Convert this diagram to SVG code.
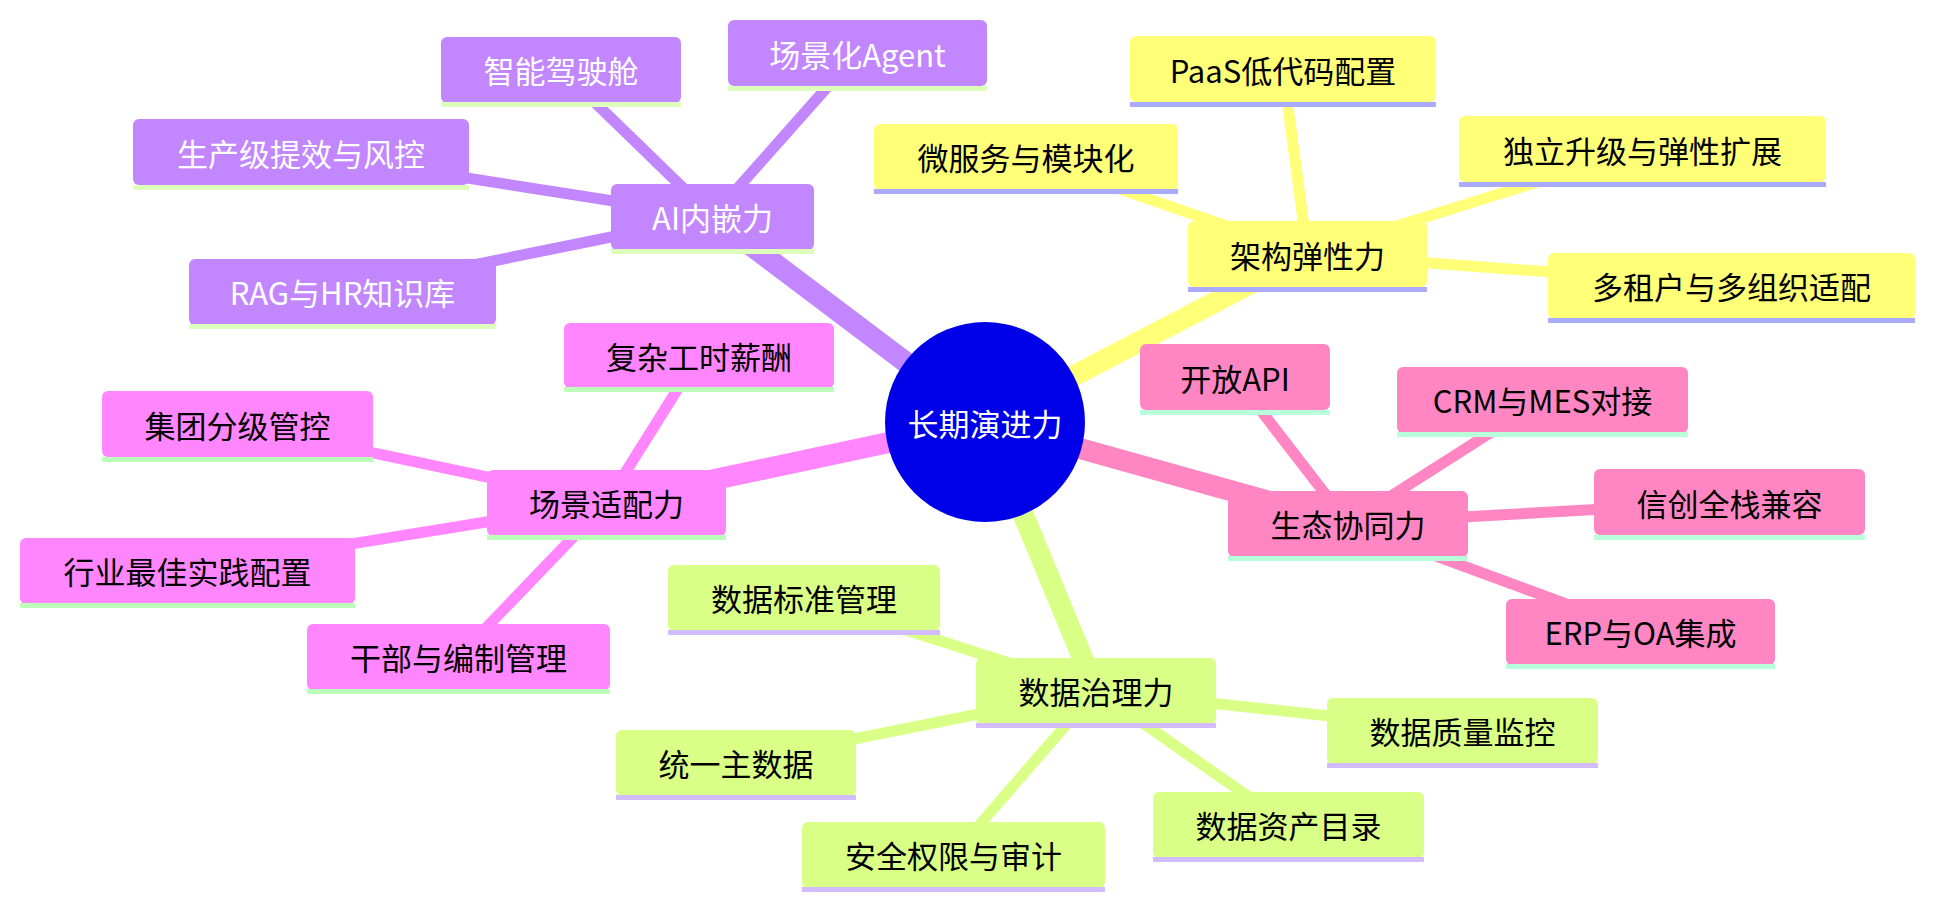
<svg xmlns="http://www.w3.org/2000/svg" width="1935" height="909" viewBox="0 0 1935 909">
<style>
text{font-family:"Noto Sans CJK SC","Liberation Sans",sans-serif;font-size:31px;text-anchor:middle;dominant-baseline:central;fill:#000}
.box{stroke:none}
.e0{stroke-width:21;stroke-linecap:butt;fill:none}
.e1{stroke-width:11;stroke-linecap:butt;fill:none}
.cp{stroke:#c286ff}.cy{stroke:#ffff78}.ck{stroke:#ff86c2}.cl{stroke:#d9ff86}.cm{stroke:#ff86ff}
.sp .box{fill:#c286ff}.sp .ul{fill:#ddffbb}.sp text{fill:#fff}
.sy .box{fill:#ffff78}.sy .ul{fill:#aaaaff}
.sk .box{fill:#ff86c2}.sk .ul{fill:#b8ffdc}
.sl .box{fill:#d9ff86}.sl .ul{fill:#d3bbff}
.sm .box{fill:#ff86ff}.sm .ul{fill:#bbffbb}
</style>
<rect width="1935" height="909" fill="#fff"/>
<g id="connectors">
  <line class="e0 cp" x1="985" y1="422" x2="712.5" y2="216.5"/>
  <line class="e0 cy" x1="985" y1="422" x2="1307.5" y2="254"/>
  <line class="e0 ck" x1="985" y1="422" x2="1348" y2="523.5"/>
  <line class="e0 cl" x1="985" y1="422" x2="1096" y2="690.5"/>
  <line class="e0 cm" x1="985" y1="422" x2="606.5" y2="502.5"/>
  <line class="e1 cp" x1="712.5" y1="216.5" x2="561" y2="69.5"/>
  <line class="e1 cp" x1="712.5" y1="216.5" x2="857.5" y2="53"/>
  <line class="e1 cp" x1="712.5" y1="216.5" x2="301" y2="152"/>
  <line class="e1 cp" x1="712.5" y1="216.5" x2="342.5" y2="291.5"/>
  <line class="e1 cy" x1="1307.5" y1="254" x2="1283" y2="69"/>
  <line class="e1 cy" x1="1307.5" y1="254" x2="1026" y2="156.5"/>
  <line class="e1 cy" x1="1307.5" y1="254" x2="1642.5" y2="149"/>
  <line class="e1 cy" x1="1307.5" y1="254" x2="1731.5" y2="285.5"/>
  <line class="e1 ck" x1="1348" y1="523.5" x2="1235" y2="377"/>
  <line class="e1 ck" x1="1348" y1="523.5" x2="1542.5" y2="399.5"/>
  <line class="e1 ck" x1="1348" y1="523.5" x2="1729.5" y2="502"/>
  <line class="e1 ck" x1="1348" y1="523.5" x2="1640.5" y2="631.5"/>
  <line class="e1 cl" x1="1096" y1="690.5" x2="804" y2="597.5"/>
  <line class="e1 cl" x1="1096" y1="690.5" x2="736" y2="762.5"/>
  <line class="e1 cl" x1="1096" y1="690.5" x2="953.5" y2="854.5"/>
  <line class="e1 cl" x1="1096" y1="690.5" x2="1288.5" y2="824.5"/>
  <line class="e1 cl" x1="1096" y1="690.5" x2="1462.5" y2="730.5"/>
  <line class="e1 cm" x1="606.5" y1="502.5" x2="699" y2="355"/>
  <line class="e1 cm" x1="606.5" y1="502.5" x2="237.5" y2="424"/>
  <line class="e1 cm" x1="606.5" y1="502.5" x2="187.5" y2="570.5"/>
  <line class="e1 cm" x1="606.5" y1="502.5" x2="458.5" y2="656.5"/>
</g>
<g id="root">
  <circle cx="985" cy="422" r="100" fill="#0000e8"/>
  <text x="985" y="422" style="fill:#fff">长期演进力</text>
</g>
<g id="n-ai" class="sp"><rect class="box" x="611" y="184" width="203" height="66" rx="6"/><rect class="ul" x="611" y="249" width="203" height="5"/><text x="712.5" y="216.5">AI内嵌力</text></g>
<g id="n-ai-1" class="sp"><rect class="box" x="441" y="37" width="240" height="66" rx="6"/><rect class="ul" x="441" y="102" width="240" height="5"/><text x="561" y="69.5">智能驾驶舱</text></g>
<g id="n-ai-2" class="sp"><rect class="box" x="728" y="20" width="259" height="66" rx="6"/><rect class="ul" x="728" y="86" width="259" height="5"/><text x="857.5" y="53">场景化Agent</text></g>
<g id="n-ai-3" class="sp"><rect class="box" x="133" y="119" width="336" height="66" rx="6"/><rect class="ul" x="133" y="185" width="336" height="5"/><text x="301" y="152">生产级提效与风控</text></g>
<g id="n-ai-4" class="sp"><rect class="box" x="189" y="259" width="307" height="66" rx="6"/><rect class="ul" x="189" y="324" width="307" height="5"/><text x="342.5" y="291.5">RAG与HR知识库</text></g>

<g id="n-arch" class="sy"><rect class="box" x="1188" y="221" width="239" height="66" rx="6"/><rect class="ul" x="1188" y="287" width="239" height="5"/><text x="1307.5" y="254">架构弹性力</text></g>
<g id="n-arch-1" class="sy"><rect class="box" x="1130" y="36" width="306" height="66" rx="6"/><rect class="ul" x="1130" y="102" width="306" height="5"/><text x="1283" y="69">PaaS低代码配置</text></g>
<g id="n-arch-2" class="sy"><rect class="box" x="874" y="124" width="304" height="66" rx="6"/><rect class="ul" x="874" y="189" width="304" height="5"/><text x="1026" y="156.5">微服务与模块化</text></g>
<g id="n-arch-3" class="sy"><rect class="box" x="1459" y="116" width="367" height="66" rx="6"/><rect class="ul" x="1459" y="182" width="367" height="5"/><text x="1642.5" y="149">独立升级与弹性扩展</text></g>
<g id="n-arch-4" class="sy"><rect class="box" x="1548" y="253" width="367" height="66" rx="6"/><rect class="ul" x="1548" y="318" width="367" height="5"/><text x="1731.5" y="285.5">多租户与多组织适配</text></g>

<g id="n-eco" class="sk"><rect class="box" x="1228" y="491" width="240" height="66" rx="6"/><rect class="ul" x="1228" y="556" width="240" height="5"/><text x="1348" y="523.5">生态协同力</text></g>
<g id="n-eco-1" class="sk"><rect class="box" x="1140" y="344" width="190" height="66" rx="6"/><rect class="ul" x="1140" y="410" width="190" height="5"/><text x="1235" y="377">开放API</text></g>
<g id="n-eco-2" class="sk"><rect class="box" x="1397" y="367" width="291" height="66" rx="6"/><rect class="ul" x="1397" y="432" width="291" height="5"/><text x="1542.5" y="399.5">CRM与MES对接</text></g>
<g id="n-eco-3" class="sk"><rect class="box" x="1594" y="469" width="271" height="66" rx="6"/><rect class="ul" x="1594" y="535" width="271" height="5"/><text x="1729.5" y="502">信创全栈兼容</text></g>
<g id="n-eco-4" class="sk"><rect class="box" x="1506" y="599" width="269" height="66" rx="6"/><rect class="ul" x="1506" y="664" width="269" height="5"/><text x="1640.5" y="631.5">ERP与OA集成</text></g>

<g id="n-data" class="sl"><rect class="box" x="976" y="658" width="240" height="66" rx="6"/><rect class="ul" x="976" y="723" width="240" height="5"/><text x="1096" y="690.5">数据治理力</text></g>
<g id="n-data-1" class="sl"><rect class="box" x="668" y="565" width="272" height="66" rx="6"/><rect class="ul" x="668" y="630" width="272" height="5"/><text x="804" y="597.5">数据标准管理</text></g>
<g id="n-data-2" class="sl"><rect class="box" x="616" y="730" width="240" height="66" rx="6"/><rect class="ul" x="616" y="795" width="240" height="5"/><text x="736" y="762.5">统一主数据</text></g>
<g id="n-data-3" class="sl"><rect class="box" x="802" y="822" width="303" height="66" rx="6"/><rect class="ul" x="802" y="887" width="303" height="5"/><text x="953.5" y="854.5">安全权限与审计</text></g>
<g id="n-data-4" class="sl"><rect class="box" x="1153" y="792" width="271" height="66" rx="6"/><rect class="ul" x="1153" y="857" width="271" height="5"/><text x="1288.5" y="824.5">数据资产目录</text></g>
<g id="n-data-5" class="sl"><rect class="box" x="1327" y="698" width="271" height="66" rx="6"/><rect class="ul" x="1327" y="763" width="271" height="5"/><text x="1462.5" y="730.5">数据质量监控</text></g>

<g id="n-scene" class="sm"><rect class="box" x="487" y="470" width="239" height="66" rx="6"/><rect class="ul" x="487" y="535" width="239" height="5"/><text x="606.5" y="502.5">场景适配力</text></g>
<g id="n-scene-1" class="sm"><rect class="box" x="564" y="323" width="270" height="65" rx="6"/><rect class="ul" x="564" y="387" width="270" height="5"/><text x="699" y="355">复杂工时薪酬</text></g>
<g id="n-scene-2" class="sm"><rect class="box" x="102" y="391" width="271" height="66" rx="6"/><rect class="ul" x="102" y="457" width="271" height="5"/><text x="237.5" y="424">集团分级管控</text></g>
<g id="n-scene-3" class="sm"><rect class="box" x="20" y="538" width="335" height="66" rx="6"/><rect class="ul" x="20" y="603" width="335" height="5"/><text x="187.5" y="570.5">行业最佳实践配置</text></g>
<g id="n-scene-4" class="sm"><rect class="box" x="307" y="624" width="303" height="66" rx="6"/><rect class="ul" x="307" y="689" width="303" height="5"/><text x="458.5" y="656.5">干部与编制管理</text></g>
</svg>
